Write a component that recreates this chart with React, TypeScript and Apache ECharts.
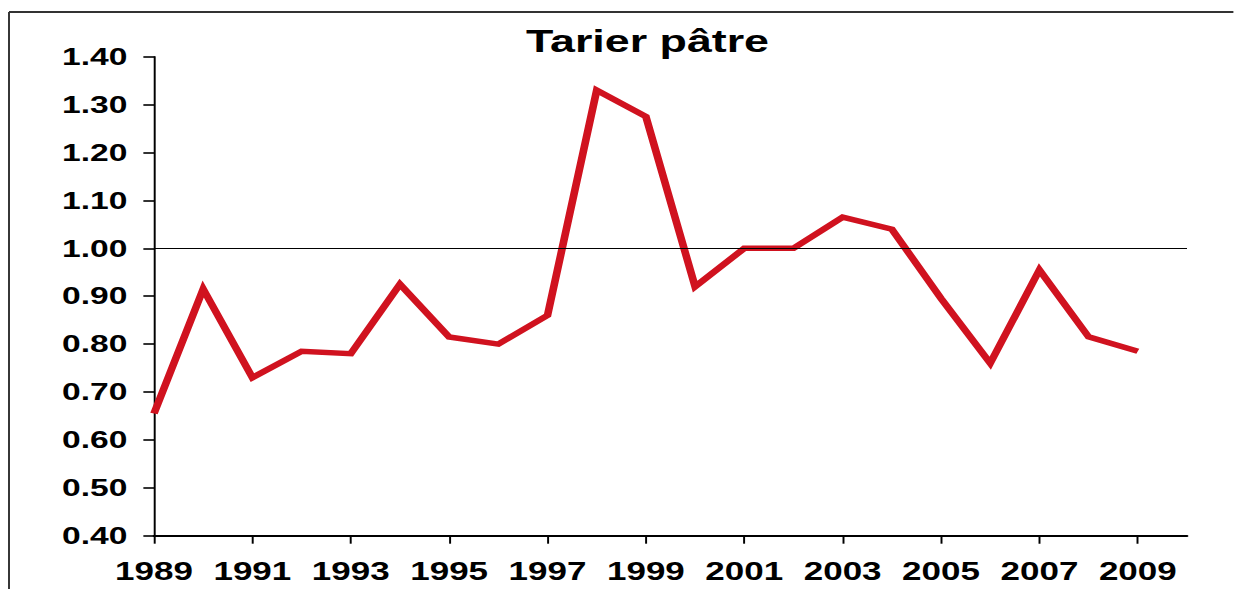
import React, { useEffect, useRef } from 'react';
import * as echarts from 'echarts';

// The reference picture is horizontally stretched; the chart is drawn narrower and stretched back.
const SCALE_X = 1.4;
const W = 1234 / SCALE_X;
const H = 589;

const chartTitle = 'Tarier pâtre';
const years = [
  '1989', '1990', '1991', '1992', '1993', '1994', '1995', '1996', '1997', '1998', '1999',
  '2000', '2001', '2002', '2003', '2004', '2005', '2006', '2007', '2008', '2009', '2010',
];
const indexValues = [
  0.655, 0.915, 0.73, 0.785, 0.78, 0.925, 0.815, 0.8, 0.86, 1.33, 1.275,
  0.92, 1.0, 1.0, 1.065, 1.04, 0.895, 0.76, 0.955, 0.815, 0.785,
];
const yMin = 0.4;
const yMax = 1.4;
const yStep = 0.1;
const referenceLevel = 1.0;

const FONT = '"Liberation Sans", Arial, Helvetica, sans-serif';

export default function App() {
  const ref = useRef<HTMLDivElement>(null);

  useEffect(() => {
    if (!ref.current) return;
    const chart = echarts.init(ref.current, null, { renderer: 'svg', width: W, height: H });
    chart.setOption({
      animation: false,
      backgroundColor: '#ffffff',
      grid: { left: 110, right: W - 1187 / SCALE_X, top: 56.7, bottom: H - 535.7, containLabel: false },
      xAxis: {
        type: 'category',
        data: years,
        boundaryGap: false,
        axisLine: { show: true, onZero: false, lineStyle: { color: '#000', width: 2 } },
        axisTick: { show: true, interval: 1, length: 8, lineStyle: { color: '#000', width: 1.4 } },
        axisLabel: {
          interval: 1,
          margin: 23,
          color: '#000',
          fontFamily: FONT,
          fontWeight: 'bold',
          fontSize: 25,
        },
        splitLine: { show: false },
      },
      yAxis: {
        type: 'value',
        min: yMin,
        max: yMax,
        interval: yStep,
        axisLine: { show: true, lineStyle: { color: '#000', width: 1.4 } },
        axisTick: { show: true, length: 7.6, lineStyle: { color: '#000', width: 1.6 } },
        axisLabel: {
          margin: 19,
          color: '#000',
          fontFamily: FONT,
          fontWeight: 'bold',
          fontSize: 24,
          padding: [0, 0, 6, 0],
          formatter: (v: number) => v.toFixed(2),
        },
        splitLine: { show: false },
      },
      graphic: [
        {
          type: 'line',
          shape: { x1: 9 / SCALE_X, y1: 12, x2: 9 / SCALE_X, y2: H + 10 },
          style: { stroke: '#333', lineWidth: 1.4 },
          silent: true,
        },
        {
          type: 'line',
          shape: { x1: 9 / SCALE_X, y1: 12, x2: W + 10, y2: 12 },
          style: { stroke: '#333', lineWidth: 2 },
          silent: true,
        },
        {
          type: 'text',
          x: 647.5 / SCALE_X,
          y: 40.5,
          style: {
            text: chartTitle,
            fontFamily: FONT,
            fontWeight: 'bold',
            fontSize: 32,
            fill: '#000',
            align: 'center',
            verticalAlign: 'middle',
          },
          silent: true,
        },
      ],
      series: [
        {
          type: 'line',
          data: indexValues,
          symbol: 'none',
          lineStyle: { color: '#d0121f', width: 5.5, join: 'miter' },
          markLine: {
            silent: true,
            symbol: ['none', 'none'],
            label: { show: false },
            lineStyle: { color: '#000', width: 1.2, type: 'solid' },
            data: [{ yAxis: referenceLevel }],
          },
        },
      ],
    });
    return () => chart.dispose();
  }, []);

  return (
    <div
      ref={ref}
      style={{
        position: 'absolute',
        left: 0,
        top: 0,
        width: W,
        height: H,
        transform: `scaleX(${SCALE_X})`,
        transformOrigin: '0 0',
        background: '#fff',
      }}
    />
  );
}
